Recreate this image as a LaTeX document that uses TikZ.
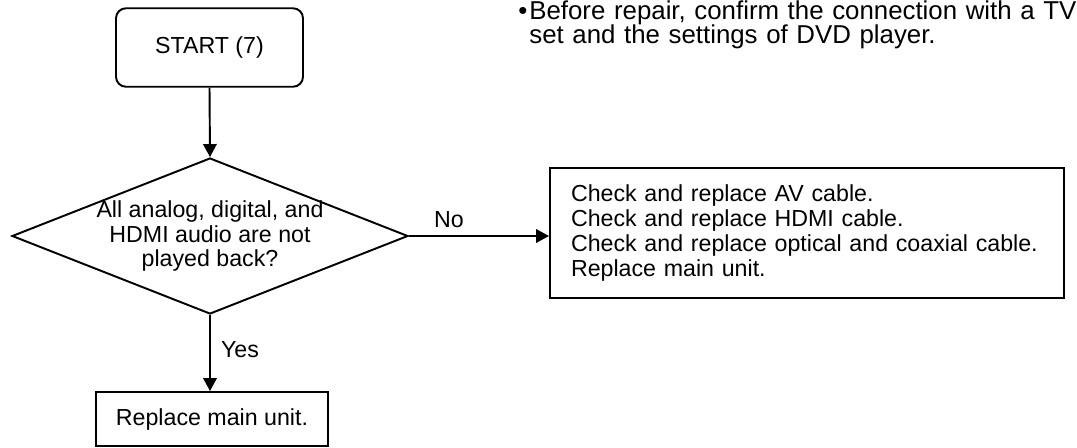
\documentclass[tikz,border=0pt]{standalone}
\usepackage{fontspec}
\setmainfont{Liberation Sans}
\usepackage{tikz}
\usetikzlibrary{
  shapes.geometric,
  arrows.meta,
  positioning
}

\begin{document}
\begin{tikzpicture}[
  box/.style={draw, line width=1.1pt, inner sep=0pt, font=\fontsize{13.2}{14.4}\selectfont},
  dec/.style={diamond, draw, line width=1.1pt, inner sep=0pt, aspect=2.54},
  ptr/.style={-{Triangle[length=0.26cm,width=0.27cm]}, line width=1.1pt},
  lbl/.style={font=\fontsize{13.2}{14.2}\selectfont, inner sep=0pt, align=center}
]
  \useasboundingbox (0,0) rectangle (21.54,-8.94);

  % note at the top
  \node[anchor=base west, inner sep=0pt, text width=11cm, align=left,
        font=\fontsize{14.7}{13.9}\selectfont] (note) at (10.58,-0.38)
    {\llap{\textbullet\hspace{0.08em}}Before repair, confirm the connection with a TV\\set and the settings of DVD player.};

  % flow boxes
  \node[box, rounded corners=0.2cm, minimum width=3.74cm, minimum height=1.57cm] (start) at (4.19,-0.95) {START (7)};
  \node[dec, minimum width=7.92cm, minimum height=3.12cm] (audio) at (4.2,-4.72) {};
  \node[lbl] (audiotext) at (audio.center) {All analog, digital, and\\HDMI audio are not\\played back?};
  \node[box, minimum width=10.28cm, minimum height=2.6cm, text width=9.44cm, align=left] (cable) at (16.14,-4.66)
    {Check and replace AV cable.\\Check and replace HDMI cable.\\Check and replace optical and coaxial cable.\\Replace main unit.};
  \node[box, minimum width=4.64cm, minimum height=1.08cm] (mainunit) at (4.24,-8.38) {Replace main unit.};

  % connectors
  \draw[ptr] (start.south) -- (audio.north);
  \draw[ptr] (audio.east) -- (audio.east -| cable.west);
  \draw[ptr] (audio.south) -- (audio.south |- mainunit.north);

  % answers
  \node[lbl, anchor=base] (no) at (8.98,-4.54) {No};
  \node[lbl, anchor=base west] (yes) at (4.414,-7.14) {Yes};
\end{tikzpicture}
\end{document}
